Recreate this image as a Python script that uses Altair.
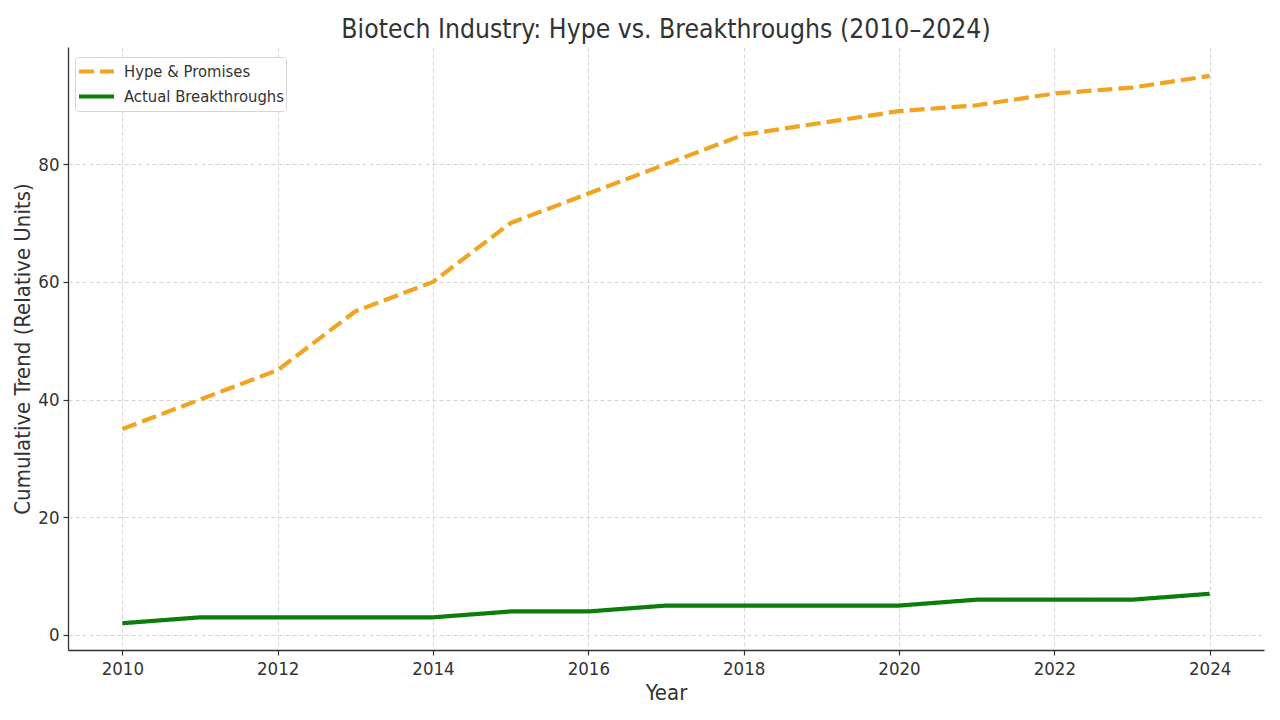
import altair as alt
import pandas as pd

years = list(range(2010, 2025))
hype = [35, 40, 45, 55, 60, 70, 75, 80, 85, 87, 89, 90, 92, 93, 95]
actual = [2, 3, 3, 3, 3, 4, 4, 5, 5, 5, 5, 6, 6, 6, 7]
series_names = ["Hype & Promises", "Actual Breakthroughs"]
series_colors = ["#F0A420", "#0A7D0A"]
series_dash = [[15, 6], [1, 0]]

rows = []
for y, h, a in zip(years, hype, actual):
    rows.append({"Year": y, "Value": h, "Series": series_names[0]})
    rows.append({"Year": y, "Value": a, "Series": series_names[1]})
df = pd.DataFrame(rows)

CFONT = "DejaVu Sans Condensed"
TXT = "#333333"

chart = alt.Chart(df).mark_line(strokeWidth=4.2, strokeCap="butt", strokeJoin="round", clip=True).encode(
    x=alt.X("Year:Q", title="Year",
            scale=alt.Scale(domain=[2009.3, 2024.7], nice=False, zero=False),
            axis=alt.Axis(values=list(range(2010, 2025, 2)), format="d")),
    y=alt.Y("Value:Q", title="Cumulative Trend (Relative Units)",
            scale=alt.Scale(domain=[-2.55, 99.9], nice=False, zero=False),
            axis=alt.Axis(values=[0, 20, 40, 60, 80])),
    color=alt.Color("Series:N", sort=series_names,
                    scale=alt.Scale(domain=series_names, range=series_colors),
                    legend=alt.Legend(title=None, orient="none", legendX=7, legendY=10,
                                      symbolType="stroke", symbolStrokeWidth=4, symbolSize=1225,
                                      labelFont=CFONT, labelFontSize=16.5, labelColor=TXT,
                                      labelOffset=8, clipHeight=25,
                                      strokeColor="#d6d6d6", fillColor="white",
                                      padding=2, rowPadding=0, cornerRadius=3,
                                      labelLimit=300)),
    strokeDash=alt.StrokeDash("Series:N", sort=series_names,
                              scale=alt.Scale(domain=series_names, range=series_dash),
                              legend=None),
).properties(
    width=1196, height=603,
    title=alt.TitleParams("Biotech Industry: Hype vs. Breakthroughs (2010–2024)",
                          font=CFONT, fontSize=26.3, fontWeight="normal", color=TXT,
                          anchor="middle", offset=4),
    autosize=alt.AutoSizeParams(type="none"),
    padding={"left": 60, "top": 39, "right": 8, "bottom": 62},
).configure_view(stroke=None).configure_axis(
    labelFont=CFONT, labelFontSize=18.5, labelColor=TXT,
    titleFont=CFONT, titleFontSize=22, titleColor=TXT, titleFontWeight="normal",
    domainColor="#333333", domainWidth=1.3,
    tickColor="#333333", tickSize=5, tickWidth=1.2,
    grid=True, gridColor="#cccccc", gridDash=[4, 3], gridWidth=0.8,
    labelPadding=4,
).configure_axisX(titlePadding=5).configure_axisY(titlePadding=3)

chart.save("out.html", embed_options={"renderer": "svg", "actions": False})
